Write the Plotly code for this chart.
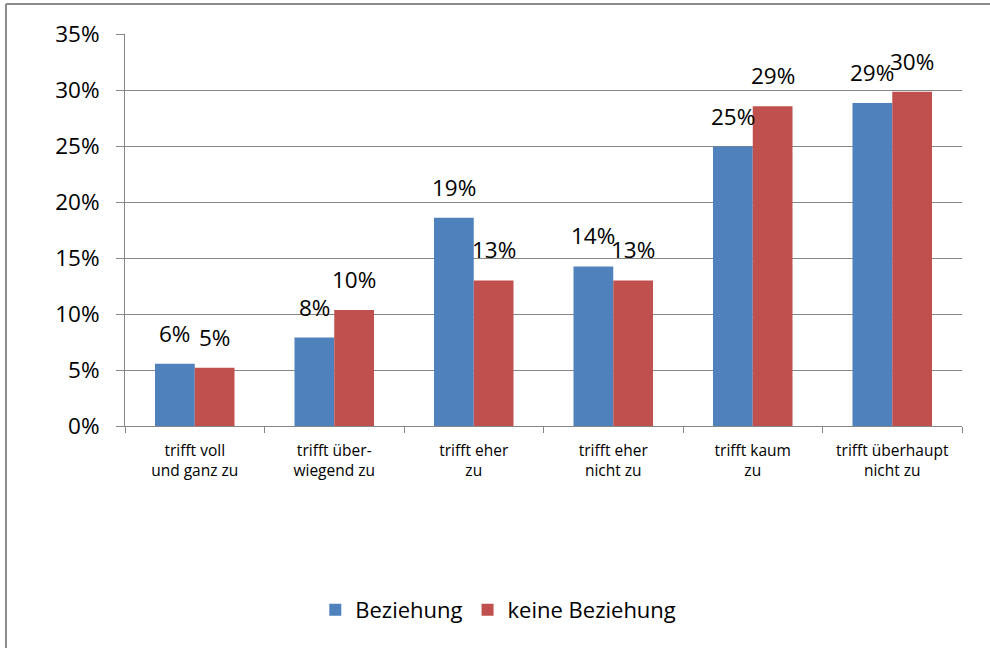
import plotly.graph_objects as go

categories = ["trifft voll<br>und ganz zu", "trifft über-<br>wiegend zu", "trifft eher<br>zu",
              "trifft eher<br>nicht zu", "trifft kaum<br>zu", "trifft überhaupt<br>nicht zu"]
beziehung = [5.55, 7.9, 18.6, 14.25, 24.95, 28.85]
keine_beziehung = [5.2, 10.35, 13.0, 13.0, 28.55, 29.85]
series_names = ["Beziehung", "keine Beziehung"]
y_ticks = [0, 5, 10, 15, 20, 25, 30, 35]

FONT = "Open Sans"
colors = ["#4F81BD", "#C0504D"]

fig = go.Figure()
for name, vals, col in zip(series_names, [beziehung, keine_beziehung], colors):
    fig.add_trace(go.Bar(x=categories, y=vals, name=name, marker_color=col,
                         marker_line_width=0))

annotations = []
for shift, vals in zip([-20, 20], [beziehung, keine_beziehung]):
    for c, v in zip(categories, vals):
        annotations.append(dict(x=c, y=v, xref="x", yref="y", text=f"{round(v):.0f}%",
                                showarrow=False, xshift=shift, yshift=13, yanchor="bottom",
                                font=dict(family=FONT, size=22.5, color="black")))

fig.update_layout(
    width=990, height=648,
    margin=dict(l=125, r=28, t=34, b=222),
    paper_bgcolor="white", plot_bgcolor="white",
    font=dict(family=FONT, color="black"),
    barmode="group", bargap=0.43, bargroupgap=0,
    showlegend=True,
    legend=dict(orientation="h", x=0.446, xanchor="center", y=-0.469, yanchor="middle",
                font=dict(family=FONT, size=22), itemwidth=30),
    annotations=annotations,
    shapes=[
        dict(type="line", xref="paper", yref="paper", x0=-0.1422, x1=-0.1422, y0=1.0765, y1=-0.7,
             line=dict(color="#8c8c8c", width=2)),
        dict(type="line", xref="paper", yref="paper", x0=-0.1422, x1=1.1, y0=1.0765, y1=1.0765,
             line=dict(color="#8c8c8c", width=2)),
    ],
)
fig.update_yaxes(range=[0, 35], tickvals=y_ticks, ticktext=[f"{t}%" for t in y_ticks],
                 showgrid=True, gridcolor="#868686", gridwidth=1,
                 showline=True, linecolor="#868686", linewidth=1,
                 ticks="outside", ticklen=8, tickcolor="#868686",
                 tickfont=dict(family=FONT, size=22.5, color="black"), ticklabelstandoff=12,
                 zeroline=False)
fig.update_xaxes(tickson="boundaries", ticks="outside", ticklen=6, tickcolor="#868686",
                 showline=True, linecolor="#868686", linewidth=1,
                 tickfont=dict(family=FONT, size=15.5, color="black"), ticklabelstandoff=10)

fig.write_html("out.html", config={"displayModeBar": False},
               post_script="document.body.style.margin='0';")
